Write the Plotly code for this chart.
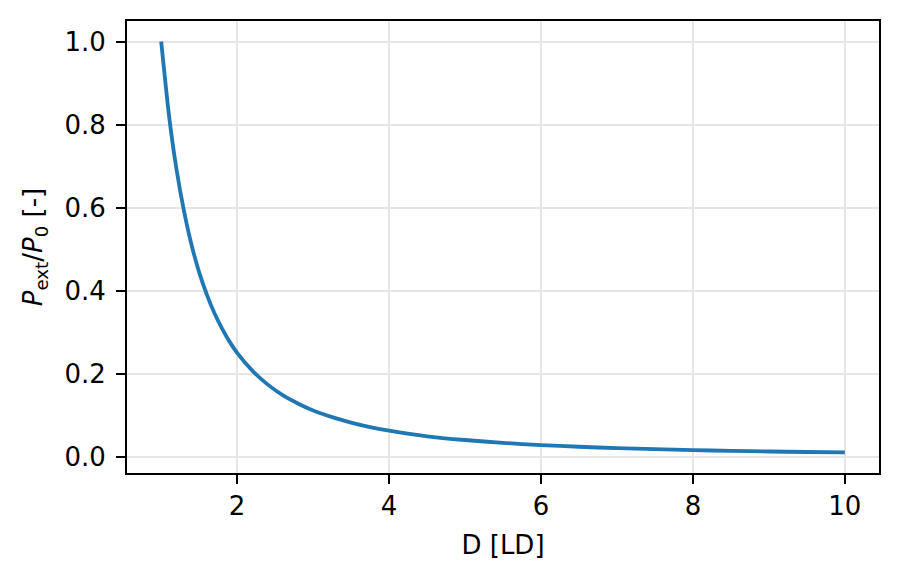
import plotly.graph_objects as go

# Values
distance_ld = [1.0, 1.1, 1.2, 1.3, 1.4, 1.5, 1.6, 1.7, 1.8, 1.9, 2.0, 2.2, 2.4, 2.6, 2.8,
               3.0, 3.25, 3.5, 3.75, 4.0, 4.5, 5.0, 5.5, 6.0, 6.5, 7.0, 7.5, 8.0, 8.5,
               9.0, 9.5, 10.0]
power_ratio = [1.000, 0.826, 0.694, 0.592, 0.510, 0.444, 0.391, 0.346, 0.309, 0.277,
               0.250, 0.207, 0.174, 0.148, 0.128, 0.111, 0.095, 0.082, 0.071, 0.0625,
               0.049, 0.040, 0.033, 0.0278, 0.0237, 0.0204, 0.0178, 0.0156, 0.0138, 0.0123,
               0.0111, 0.0100]

x_ticks = [2, 4, 6, 8, 10]
y_ticks = [0.0, 0.2, 0.4, 0.6, 0.8, 1.0]
y_tick_labels = ["0.0", "0.2", "0.4", "0.6", "0.8", "1.0"]

font_family = "DejaVu Sans"
fs = 26

fig = go.Figure()
fig.add_trace(go.Scatter(
    x=distance_ld, y=power_ratio, mode="lines",
    line=dict(color="#1f77b4", width=3.8, shape="spline", smoothing=0.5),
    showlegend=False,
))

axis_common = dict(
    showline=True, linecolor="black", linewidth=2, mirror=True,
    ticks="outside", ticklen=9, tickwidth=2, tickcolor="black",
    showgrid=True, gridcolor="#e6e6e6", gridwidth=2,
    zeroline=False,
    tickfont=dict(family=font_family, size=fs, color="black"),
)

fig.update_layout(
    width=890, height=573,
    margin=dict(l=119, r=19, t=13, b=108),
    paper_bgcolor="white", plot_bgcolor="white",
    font=dict(family=font_family, size=fs, color="black"),
    xaxis=dict(
        range=[0.55, 10.45], tickvals=x_ticks,
        title=dict(text="D [LD]", font=dict(family=font_family, size=fs), standoff=16),
        **axis_common,
    ),
    yaxis=dict(
        range=[-0.0395, 1.0495], tickvals=y_ticks, ticktext=y_tick_labels,
        ticklabelstandoff=5,
        title=dict(text="<i>P</i><sub>ext</sub>/<i>P</i><sub>0</sub> [-]",
                   font=dict(family=font_family, size=fs), standoff=14),
        **axis_common,
    ),
)

fig.write_html("out.html")
